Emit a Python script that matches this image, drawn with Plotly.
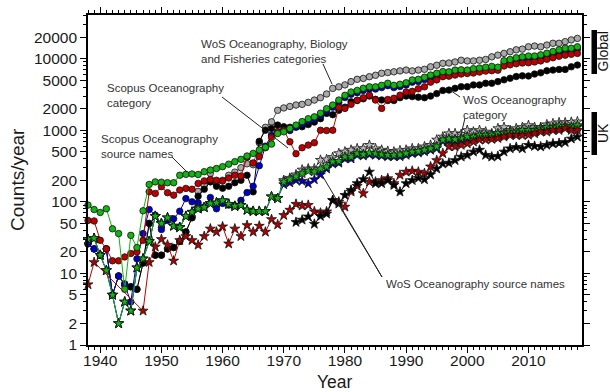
import plotly.graph_objects as go

years = list(range(1938, 2019))

# ---- Global series (circles) ----
wos_obf_global = [26, 22, 18, 22, 5, 9.2, 7.1, 6.5, 6, 14,
                  50, 18, 18, 22, 23, 28, 38, 60, 140, 170,
                  250, 180, 200, 235, 260, 300, 340, 330, 670, 1100,
                  1310, 1900, 2050, 2150, 2250, 2300, 2450, 2640, 2850, 3210,
                  3840, 4040, 4300, 4780, 5150, 5300, 5600, 5860, 6250, 6400,
                  6550, 6750, 6930, 6750, 6930, 7100, 7700, 8090, 8600, 8700,
                  9000, 9500, 9300, 9300, 9500, 9750, 10600, 11200, 11850, 12500,
                  13300, 13600, 14660, 15000, 14660, 15500, 16400, 16400, 17300, 18300,
                  19200]
wos_cat_global = [26, 22, 18, 22, 5, 9.2, 7.1, 6.5, 6, 14,
                  50, 18, 18, 22, 23, 28, 38, 60, 120, 150,
                  190, 165, 155, 165, 185, 200, 235, 138, 700, 1000,
                  1060, 1180, 1120, 1100, 1120, 1120, 1200, 1300, 1450, 1720,
                  1650, 1900, 2100, 2500, 2600, 2750, 3000, 2700, 2650, 2600,
                  2600, 2850, 3000, 2950, 2900, 2850, 3000, 3250, 3600, 3640,
                  3850, 4060, 4060, 4300, 4300, 4530, 4530, 4780, 5060, 5330,
                  5630, 5750, 5730, 6100, 6350, 6780, 6930, 7070, 7070, 7700,
                  8150]
wos_src_global = [26, 22, 18, 22, 5, 9.2, 6.9, 4, 16, 36,
                  78, 65, 41, 55, 58, 74, 111, 100, 97, 85,
                  115, 80, 95, 90, 88, 105, 135, 165, 320, 600,
                  850, 950, 1000, 990, 1100, 1230, 1350, 1430, 1600, 1860,
                  2100, 2450, 2860, 3180, 3350, 3600, 3760, 3760, 3940, 4200,
                  3940, 4080, 4280, 4700, 4790, 5100, 5500, 5800, 6150, 6100,
                  6450, 6500, 6450, 6750, 6900, 7050, 7250, 7100, 8700, 9050,
                  9600, 9850, 10100, 10100, 10500, 11100, 11700, 12400, 13000, 13000,
                  13600]
scopus_cat_global = [55, 54, 29, 22, 15, 15, 17, 19, 20, 29,
                     138, 131, 163, 134, 124, 146, 154, 150, 181, 196,
                     205, 200, 195, 215, 235, 230, 420, 350, 430, 570,
                     800, 950, 1000, 690, 470, 570, 620, 670, 1000, 990,
                     1000, 2080, 2020, 2300, 2630, 2850, 3090, 2640, 2020, 2690,
                     2800, 3090, 3420, 3500, 3800, 4040, 4700, 5050, 5600, 5700,
                     5900, 6100, 6200, 6300, 6500, 6700, 6800, 6900, 7900, 8200,
                     8500, 8700, 8770, 9000, 9300, 9800, 10300, 10800, 11200, 11500,
                     11850]
scopus_src_global = [90, 78, 71, 80, 42, 36, 6, 34, 23, 75,
                     175, 190, 188, 185, 185, 235, 242, 245, 241, 264,
                     278, 292, 310, 336, 364, 392, 437, 475, 530, 580,
                     640, 900, 950, 1060, 1180, 1320, 1450, 1540, 1730, 2000,
                     2250, 2640, 3080, 3420, 3600, 3860, 4040, 4040, 4240, 4530,
                     4240, 4390, 4600, 5050, 5150, 5500, 5900, 6250, 6600, 6550,
                     6930, 7000, 6930, 7250, 7400, 7600, 7800, 7600, 9350, 9750,
                     10300, 10600, 10900, 10900, 11300, 11900, 12600, 13300, 14000, 14000,
                     14660]

# ---- UK series (stars) ----
wos_obf_uk = [30, 31, 18, 11, 5, 2, 4, 3, 12, 16,
              28, 63, 50, 60, 46, 44, 63, 72, 80, 84,
              95, 97, 104, 93, 87, 90, 77, 74, 74, 74,
              118, 112, 200, 215, 240, 280, 290, 290, 383, 390,
              420, 475, 500, 530, 555, 555, 620, 555, 530, 510,
              500, 520, 530, 555, 555, 590, 620, 735, 810, 900,
              900, 880, 1000, 950, 1000, 950, 900, 1060, 1100, 1000,
              1060, 1100, 1170, 1100, 1100, 1200, 1240, 1280, 1280, 1300,
              1320]
scopus_src_uk = [30, 31, 18, 11, 5, 2, 4, 3, 12, 16,
                 28, 63, 50, 60, 46, 44, 63, 72, 80, 84,
                 95, 97, 104, 93, 87, 90, 77, 74, 74, 74,
                 118, 112, 190, 205, 225, 250, 270, 265, 290, 310,
                 364, 370, 425, 425, 475, 460, 485, 475, 460, 450,
                 450, 455, 475, 500, 510, 530, 555, 590, 735, 760,
                 745, 770, 810, 810, 860, 860, 860, 900, 900, 950,
                 950, 1000, 1000, 1000, 1050, 1100, 1100, 1150, 1150, 1120,
                 1170]
wos_src_uk = [30, 31, 18, 11, 5, 2, 4, 3, 12, 16,
              28, 63, 50, 60, 46, 44, 63, 72, 80, 84,
              95, 97, 104, 93, 87, 90, 77, 74, 74, 74,
              118, 112, 175, 185, 200, 195, 181, 205, 240, 290,
              340, 350, 400, 400, 450, 440, 460, 450, 440, 430,
              430, 430, 450, 475, 485, 505, 530, 560, 700, 720,
              710, 730, 770, 770, 820, 820, 820, 850, 850, 900,
              900, 950, 950, 950, 1000, 1050, 1050, 1090, 1090, 1060,
              1110]
scopus_cat_uk = [7, 14.3, None, None, None, None, None, None, None, 3,
                 14.3, 23.5, 30, 25, 15, 29, 33, 29, 25, 33,
                 42, 38, 45, 26, 42, 33, 47, 38, 46, 38,
                 57, 48, 65, 77, 93, 88, 90, 73, 70, 73,
                 105, 100, 85, 138, 166, 131, 190, 190, 200, 212,
                 181, 237, 262, 270, 262, 250, 310, 380, 475, 590,
                 590, 620, 650, 690, 735, 735, 750, 770, 810, 850,
                 850, 850, 860, 900, 950, 950, 1000, 1000, 1060, 1000,
                 1000]
wos_cat_uk = [None] * 34 + [52, 56, 62, 49, 63, 68,
              105, 94, 124, 146, 181, 206, 262, 181, 181, 200,
              171, 138, 181, 200, 215, 205, 240, 290, 340, 350,
              380, 425, 450, 500, 530, 450, 425, 435, 500, 555,
              580, 555, 620, 600, 590, 620, 650, 660, 680, 760,
              810]

y_tickvals = [1, 2, 5, 10, 20, 50, 100, 200, 500, 1000, 2000, 5000, 10000, 20000]
y_ticktext = [str(v) for v in y_tickvals]
y_minor = [m * 10 ** e for e in range(0, 5) for m in (3, 4, 6, 7, 8, 9)]
x_tickvals = list(range(1940, 2011, 10))

# ---- styles ----
C_GRAY, C_BLACK, C_BLUE, C_RED, C_GREEN = "#a9a9a9", "#000000", "#0000c8", "#c00000", "#12b512"
L_GRAY = "#5a5a5a"

fig = go.Figure()

def add(y, line_color, fill, symbol, size):
    fig.add_trace(go.Scatter(
        x=years, y=y, mode="lines+markers", connectgaps=True, cliponaxis=False,
        showlegend=False, hoverinfo="x+y",
        line=dict(color=line_color, width=1),
        marker=dict(symbol=symbol, size=size, color=fill,
                    line=dict(color="#111111", width=0.8))))

# circles (global)
add(wos_obf_global, L_GRAY, C_GRAY, "circle", 6.5)
add(wos_cat_global, C_BLACK, C_BLACK, "circle", 6.5)
add(wos_src_global, C_BLUE, C_BLUE, "circle", 6.5)
add(scopus_cat_global, C_RED, C_RED, "circle", 6.5)
add(scopus_src_global, C_GREEN, C_GREEN, "circle", 6.5)
# stars (UK)
add(wos_obf_uk, L_GRAY, "#b8b8b8", "star", 7.5)
add(wos_src_uk, C_BLUE, C_BLUE, "star", 7.5)
add(scopus_src_uk, C_GREEN, C_GREEN, "star", 7.5)
add(scopus_cat_uk, C_RED, "#b00000", "star", 7.5)
add(wos_cat_uk, C_BLACK, C_BLACK, "star", 7.5)

# ---- layout geometry ----
L, R, T, B = 88, 28, 15, 47
W, H = 610, 392
PW, PH = W - L - R, H - T - B

def px(x):
    return (x - L) / PW

def py(y):
    return (H - B - y) / PH

shapes = []
def seg(x0, y0, x1, y1, color="#222222", width=1):
    shapes.append(dict(type="line", xref="paper", yref="paper",
                       x0=px(x0), y0=py(y0), x1=px(x1), y1=py(y1),
                       line=dict(color=color, width=width)))

seg(323, 64, 332, 84)
seg(222, 97, 288, 148)
seg(172, 157, 187, 172)
seg(460, 97, 450, 90)
seg(465, 118, 455, 160)
seg(382, 277, 322, 175)
seg(382, 277, 337, 202)
# Global / UK bars
for y0, y1 in ((30, 74), (112, 155)):
    shapes.append(dict(type="rect", xref="paper", yref="paper",
                       x0=px(591.5), x1=px(597), y0=py(y1), y1=py(y0),
                       fillcolor="black", line=dict(width=0)))

ann_font = dict(family="Liberation Sans, Arial, sans-serif", size=11.5, color="#333333")
annotations = []
def note(text, x, y):
    annotations.append(dict(text=text, xref="paper", yref="paper", x=px(x), y=py(y),
                            xanchor="left", yanchor="middle", align="left",
                            showarrow=False, font=ann_font))

note("WoS Oceanography, Biology<br>and Fisheries categories", 199, 52)
note("Scopus Oceanography<br>category", 105, 95.5)
note("Scopus Oceanography<br>source names", 99, 146)
note("WoS Oceanography<br>category", 461, 107)
note("WoS Oceanography source names", 384, 284)

side_font = dict(family="Liberation Sans, Arial, sans-serif", size=14, color="#111111")
for text, yc in (("Global", 52), ("UK", 133.5)):
    annotations.append(dict(text=text, xref="paper", yref="paper", x=px(602.5), y=py(yc),
                            xanchor="center", yanchor="middle", textangle=-90,
                            showarrow=False, font=side_font))

tick_font = dict(family="Liberation Sans, Arial, sans-serif", size=15.5, color="#1a1a1a")
title_font = dict(family="Liberation Sans, Arial, sans-serif", size=19, color="#1a1a1a")
xtitle_font = dict(family="Liberation Sans, Arial, sans-serif", size=17.5, color="#1a1a1a")

# axis titles placed as annotations for exact positioning
annotations.append(dict(text="Year", xref="paper", yref="paper", x=0.5, y=py(381.5),
                        xanchor="center", yanchor="middle", showarrow=False, font=xtitle_font))
annotations.append(dict(text="Counts/year", xref="paper", yref="paper", x=px(17), y=0.5,
                        xanchor="center", yanchor="middle", textangle=-90,
                        showarrow=False, font=title_font))

fig.update_layout(
    width=W, height=H, autosize=False,
    margin=dict(l=L, r=R, t=T, b=B, pad=0),
    template="none",
    paper_bgcolor="white", plot_bgcolor="white",
    showlegend=False,
    shapes=shapes, annotations=annotations,
    xaxis=dict(
        range=[1938, 2018.75], tickmode="array", tickvals=x_tickvals,
        ticktext=[str(v) for v in x_tickvals],
        ticks="outside", ticklen=6, tickwidth=1, tickcolor="black", ticklabelstandoff=-5,
        minor=dict(ticks="outside", dtick=1, tick0=1938, ticklen=3, tickwidth=1, tickcolor="black", showgrid=False),
        showline=True, linecolor="black", linewidth=1.6, mirror="allticks",
        showgrid=False, zeroline=False, tickfont=tick_font, automargin=False),
    yaxis=dict(
        type="log", range=[0, 4.61], tickmode="array", tickvals=y_tickvals, ticktext=y_ticktext,
        ticks="outside", ticklen=6, tickwidth=1, tickcolor="black",
        minor=dict(ticks="outside", tickmode="array", tickvals=y_minor, ticklen=3, tickwidth=1, tickcolor="black", showgrid=False),
        showline=True, linecolor="black", linewidth=1.6, mirror="allticks",
        showgrid=False, zeroline=False, tickfont=tick_font, automargin=False),
)

fig.write_html("out.html")
